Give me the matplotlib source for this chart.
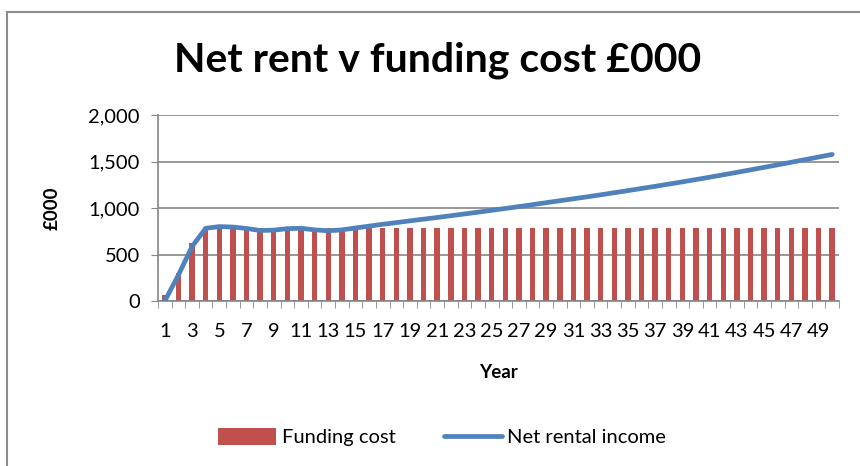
import matplotlib
matplotlib.use("Agg")
import matplotlib.pyplot as plt
from matplotlib.patches import Rectangle
from matplotlib.ticker import FuncFormatter

plt.rcParams['font.family'] = ['Lato', 'DejaVu Sans']

# Data (£000)
years = list(range(1, 51))
funding_cost = [65, 300, 627] + [785] * 47
net_rental_income = [
    0, 280, 585, 782, 800, 795, 780, 758, 762, 778,
    782, 765, 755, 765, 785, 805, 825, 843, 862, 880,
    898, 917, 936, 955, 975, 995, 1015, 1036, 1057, 1078,
    1099, 1120, 1142, 1164, 1187, 1210, 1233, 1257, 1281, 1306,
    1331, 1357, 1383, 1410, 1437, 1464, 1492, 1520, 1548, 1576,
]
tick_labels = [str(y) for y in years[::2]]

bar_color = "#C0504D"
line_color = "#4F81BD"
axis_gray = "#868686"

fig = plt.figure(figsize=(8.6, 4.66), dpi=100)
ax = fig.add_axes([158 / 860, 1 - 301 / 466, (839 - 158) / 860, (301 - 115) / 466])

bars = ax.bar(years, funding_cost, width=0.4, color=bar_color, label="Funding cost", zorder=2)
line, = ax.plot(years, net_rental_income, color=line_color, lw=3.4, solid_capstyle="round",
                label="Net rental income", zorder=3)

ax.set_xlim(0.5, 50.5)
ax.set_ylim(0, 2000)
ax.set_yticks([0, 500, 1000, 1500, 2000])
ax.yaxis.set_major_formatter(FuncFormatter(lambda v, p: f"{int(v):,}"))
ax.grid(axis="y", color=axis_gray, lw=1.2, zorder=0)

# category labels on odd years, tick marks between categories
ax.set_xticks(years[::2])
ax.set_xticklabels(tick_labels)
ax.set_xticks([y + 0.5 for y in range(0, 51)], minor=True)
ax.tick_params(axis="x", which="major", length=0, labelsize=14.5, pad=16)
ax.tick_params(axis="x", which="minor", length=5, color=axis_gray, direction="out")
ax.tick_params(axis="y", length=5, color=axis_gray, labelsize=14.5, pad=8)

for side in ["top", "right"]:
    ax.spines[side].set_visible(False)
for side in ["left", "bottom"]:
    ax.spines[side].set_color(axis_gray)
    ax.spines[side].set_linewidth(1.2)

ax.set_xlabel("Year", fontsize=13.5, fontweight="bold", labelpad=17)
ax.set_ylabel("£000", fontsize=13.5, fontweight="bold", labelpad=20)

fig.text(438 / 860, 1 - 60 / 466, "Net rent v funding cost £000", fontsize=29.5,
         fontweight="bold", ha="center", va="center")

fig.legend([bars, line], ["Funding cost", "Net rental income"],
           loc="center", bbox_to_anchor=(442 / 860, 1 - 437 / 466), ncol=2, frameon=False,
           fontsize=14.5, handlelength=2.9, handletextpad=0.25, columnspacing=2.4,
           handleheight=0.9)

# chart border (cut off at right and bottom)
fig.patches.append(Rectangle((7 / 860, -0.1), 1.0, 1 - 12 / 466 + 0.1,
                             transform=fig.transFigure, fill=False,
                             edgecolor="#8C8C8C", lw=1.5))

fig.savefig("out.png", dpi=100)
